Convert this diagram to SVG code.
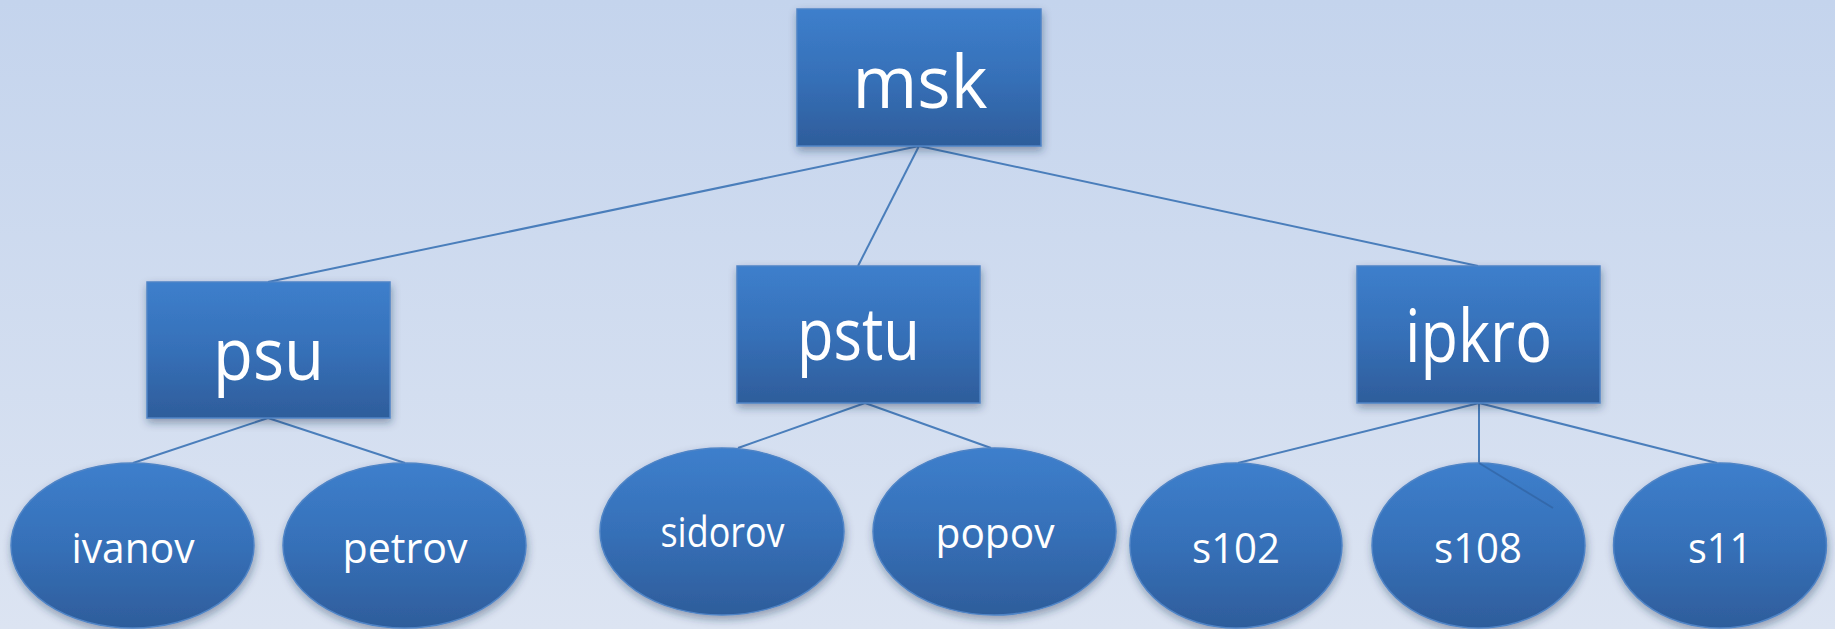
<svg xmlns="http://www.w3.org/2000/svg" width="1835" height="629" viewBox="0 0 1835 629">
<defs>
<linearGradient id="bg" x1="0" y1="0" x2="0" y2="1">
<stop offset="0" stop-color="#c4d4ed"/>
<stop offset="1" stop-color="#dce4f2"/>
</linearGradient>
<linearGradient id="fill" x1="0" y1="0" x2="0" y2="1">
<stop offset="0" stop-color="#3d7fcc"/>
<stop offset="0.5" stop-color="#3670b8"/>
<stop offset="1" stop-color="#2e5d9b"/>
</linearGradient>
<filter id="sh" x="-20%" y="-20%" width="140%" height="150%">
<feDropShadow dx="1" dy="4" stdDeviation="4" flood-color="#1a2f50" flood-opacity="0.4"/>
</filter>
</defs>
<style>
.box{fill:url(#fill);stroke:#4f84c6;stroke-width:1.5;filter:url(#sh)}
.ell{fill:url(#fill);stroke:#4f84c6;stroke-width:1.5;filter:url(#sh)}
.big{font-family:"Open Sans","Noto Sans",sans-serif;font-size:74px;fill:#ffffff;text-anchor:middle}
.small{font-family:"Open Sans","Noto Sans",sans-serif;font-size:42px;fill:#ffffff;text-anchor:middle}
.con{stroke:#4a7ebb;stroke-width:2;fill:none}
</style>
<rect x="0" y="0" width="1835" height="629" fill="url(#bg)"/>
<g id="connectors">
<line class="con" x1="919" y1="146" x2="268" y2="282"/>
<line class="con" x1="919" y1="146" x2="858" y2="266"/>
<line class="con" x1="919" y1="146" x2="1478" y2="266"/>
<line class="con" x1="268" y1="418" x2="133" y2="463"/>
<line class="con" x1="268" y1="418" x2="405" y2="463"/>
<line class="con" x1="865" y1="403" x2="738" y2="448"/>
<line class="con" x1="865" y1="403" x2="991" y2="448"/>
<line class="con" x1="1479" y1="403" x2="1238" y2="463"/>
<line class="con" x1="1479" y1="403" x2="1479" y2="463"/>
<line class="con" x1="1479" y1="403" x2="1717" y2="463"/>
</g>
<g id="msk"><rect class="box" x="797" y="9" width="244" height="137"/><text class="big" x="920" y="108" textLength="135" lengthAdjust="spacingAndGlyphs">msk</text></g>
<g id="psu"><rect class="box" x="147" y="282" width="243" height="136"/><text class="big" x="268.5" y="380" textLength="111" lengthAdjust="spacingAndGlyphs">psu</text></g>
<g id="pstu"><rect class="box" x="737" y="266" width="243" height="137"/><text class="big" x="858.5" y="360" textLength="123" lengthAdjust="spacingAndGlyphs">pstu</text></g>
<g id="ipkro"><rect class="box" x="1357" y="266" width="243" height="137"/><text class="big" x="1478.5" y="362" textLength="147" lengthAdjust="spacingAndGlyphs">ipkro</text></g>
<g id="ivanov"><ellipse class="ell" cx="132.5" cy="545.5" rx="121.5" ry="82.5"/><text class="small" x="133" y="563" textLength="123" lengthAdjust="spacingAndGlyphs">ivanov</text></g>
<g id="petrov"><ellipse class="ell" cx="404.5" cy="545.5" rx="121.5" ry="82.5"/><text class="small" x="405" y="563" textLength="125" lengthAdjust="spacingAndGlyphs">petrov</text></g>
<g id="sidorov"><ellipse class="ell" cx="722" cy="531.5" rx="122" ry="83.5"/><text class="small" x="722.5" y="547" font-size="40" textLength="124" lengthAdjust="spacingAndGlyphs">sidorov</text></g>
<g id="popov"><ellipse class="ell" cx="994.5" cy="531.5" rx="121.5" ry="83.5"/><text class="small" x="995" y="548" textLength="119" lengthAdjust="spacingAndGlyphs">popov</text></g>
<g id="s102"><ellipse class="ell" cx="1236" cy="545.5" rx="106" ry="82.5"/><text class="small" x="1236" y="563" textLength="88" lengthAdjust="spacingAndGlyphs">s102</text></g>
<g id="s108"><ellipse class="ell" cx="1478.5" cy="545.5" rx="106.5" ry="82.5"/><line x1="1479" y1="463" x2="1553" y2="508" stroke="#2f5f9c" stroke-width="2" opacity="0.6"/><text class="small" x="1478" y="563" textLength="88" lengthAdjust="spacingAndGlyphs">s108</text></g>
<g id="s11"><ellipse class="ell" cx="1720" cy="545.5" rx="106.5" ry="82.5"/><text class="small" x="1720" y="563" textLength="64" lengthAdjust="spacingAndGlyphs">s11</text></g>
</svg>
